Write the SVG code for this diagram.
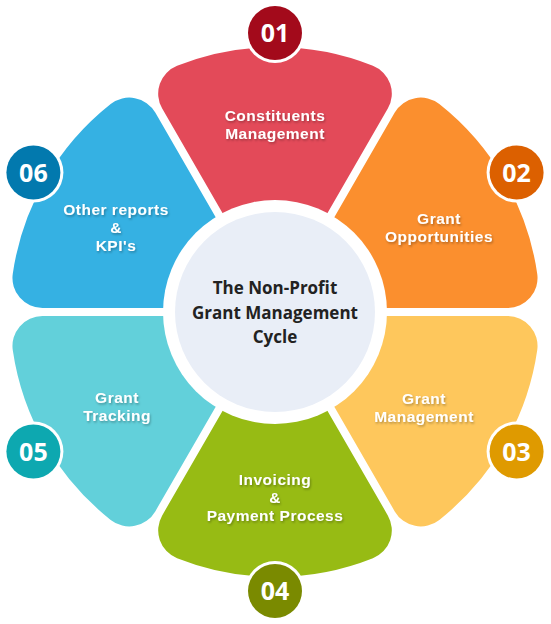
<svg xmlns="http://www.w3.org/2000/svg" width="551" height="624" viewBox="0 0 551 624">
<defs>
<path id="petal" d="M0,-8 L-112.80,-203.38 A30,30 0 0 1 -97.90,-246.26 A265,265 0 0 1 97.90,-246.26 A30,30 0 0 1 112.80,-203.38 Z"/>
<filter id="sh" x="-20%" y="-50%" width="140%" height="200%">
<feDropShadow dx="1" dy="1.5" stdDeviation="1" flood-color="#000" flood-opacity="0.3"/>
</filter>
</defs>
<style>
.lbl{font-family:"Liberation Sans",Arial,sans-serif;font-weight:700;font-size:15.5px;letter-spacing:0.5px;fill:#fff;text-anchor:middle;filter:url(#sh)}
.num{font-family:"Open Sans","Liberation Sans",sans-serif;font-weight:700;font-size:25px;fill:#fff;text-anchor:middle}
.ctr{font-family:"Open Sans","Liberation Sans",sans-serif;font-weight:700;font-size:17px;fill:#222;text-anchor:middle}
.ring{fill:#fff}
.badge-ring{fill:#fff}
</style>
<rect width="551" height="624" fill="#fff"/>
<g id="petals" transform="translate(275,312)">
<use href="#petal" fill="#E34A59"/>
<use href="#petal" fill="#FB8F2E" transform="rotate(60)"/>
<use href="#petal" fill="#FEC75C" transform="rotate(120)"/>
<use href="#petal" fill="#97BB14" transform="rotate(180)"/>
<use href="#petal" fill="#62D0DA" transform="rotate(240)"/>
<use href="#petal" fill="#35B1E3" transform="rotate(300)"/>
</g>
<g id="center">
<circle cx="275" cy="312" r="112" class="ring"/>
<circle cx="275" cy="312" r="100" fill="#E9EEF7"/>
<text class="ctr" x="275" y="294">The Non-Profit</text>
<text class="ctr" x="275" y="319">Grant Management</text>
<text class="ctr" x="275" y="343">Cycle</text>
</g>
<g id="node01">
<text class="lbl" x="275" y="120.5">Constituents</text>
<text class="lbl" x="275" y="138.5">Management</text>
<circle cx="275" cy="33" r="30" class="badge-ring"/>
<circle cx="275" cy="33" r="27" fill="#A30A1B"/>
<text class="num" x="275" y="42">01</text>
</g>
<g id="node02">
<text class="lbl" x="439" y="223.5">Grant</text>
<text class="lbl" x="439" y="241.5">Opportunities</text>
<circle cx="516.6" cy="172.5" r="30" class="badge-ring"/>
<circle cx="516.6" cy="172.5" r="27" fill="#DC6000"/>
<text class="num" x="516.6" y="181.5">02</text>
</g>
<g id="node03">
<text class="lbl" x="424" y="403.5">Grant</text>
<text class="lbl" x="424" y="421.5">Management</text>
<circle cx="516.6" cy="451.5" r="30" class="badge-ring"/>
<circle cx="516.6" cy="451.5" r="27" fill="#DF9A00"/>
<text class="num" x="516.6" y="460.5">03</text>
</g>
<g id="node04">
<text class="lbl" x="275" y="484.5">Invoicing</text>
<text class="lbl" x="275" y="502.5">&amp;</text>
<text class="lbl" x="275" y="520.5">Payment Process</text>
<circle cx="275" cy="591" r="30" class="badge-ring"/>
<circle cx="275" cy="591" r="27" fill="#7A8A00"/>
<text class="num" x="275" y="600">04</text>
</g>
<g id="node05">
<text class="lbl" x="117" y="402.5">Grant</text>
<text class="lbl" x="117" y="420.5">Tracking</text>
<circle cx="33.4" cy="451.5" r="30" class="badge-ring"/>
<circle cx="33.4" cy="451.5" r="27" fill="#0DA8B0"/>
<text class="num" x="33.4" y="460.5">05</text>
</g>
<g id="node06">
<text class="lbl" x="116" y="214.5">Other reports</text>
<text class="lbl" x="116" y="232.5">&amp;</text>
<text class="lbl" x="116" y="250.5">KPI's</text>
<circle cx="33.4" cy="172.5" r="30" class="badge-ring"/>
<circle cx="33.4" cy="172.5" r="27" fill="#0279AE"/>
<text class="num" x="33.4" y="181.5">06</text>
</g>
<g id="connectors"/>
</svg>
